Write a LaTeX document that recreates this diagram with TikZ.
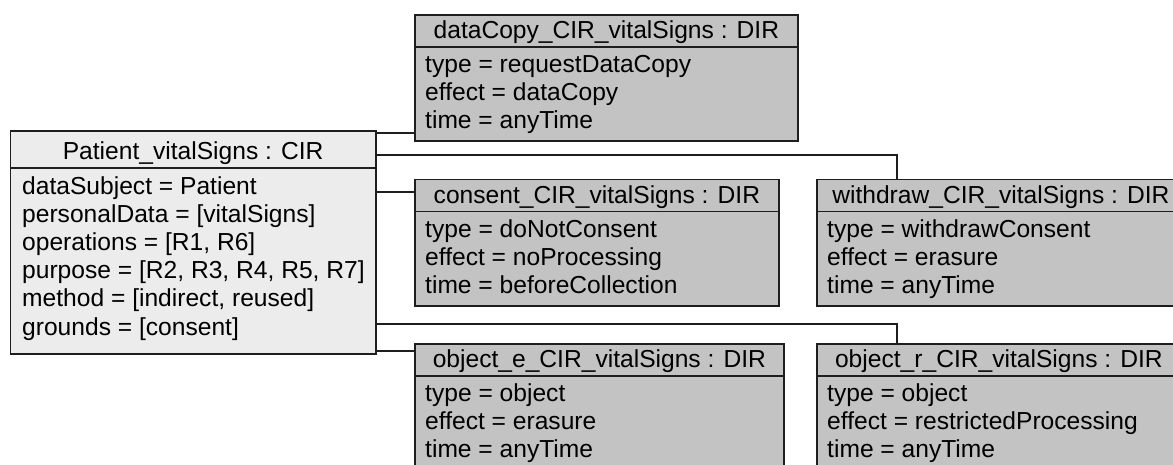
\documentclass[tikz,border=0pt]{standalone}
\usepackage{fontspec}
\setmainfont{Liberation Sans}
\definecolor{cirfill}{HTML}{ECECEC}
\definecolor{dirfill}{HTML}{C3C3C3}
\definecolor{edge}{HTML}{1E1E1E}
\begin{document}
\begin{tikzpicture}[x=1pt,y=-1pt,
  border/.style={draw=edge,line width=1.8pt},
  cirbox/.style={border,fill=cirfill,inner sep=0pt,anchor=north west},
  dirbox/.style={border,fill=dirfill,inner sep=0pt,anchor=north west},
  hdr/.style={inner sep=0pt,anchor=base,font=\fontsize{24.6}{28.1}\selectfont},
  attr/.style={inner sep=0pt,anchor=base west,font=\fontsize{24.6}{28.1}\selectfont},
  link/.style={draw=edge,line width=1.8pt}]
\useasboundingbox (0,0) rectangle (1173,464);
\clip (0,0) rectangle (1173,464);

% ---- CIR object ----
\node[cirbox,minimum width=365.5pt,minimum height=223pt] (pat) at (9.5,130) {};
\draw[border] ([yshift=-38pt]pat.north west) -- ([yshift=-38pt]pat.north east);
\node[hdr] (pat-h) at ([yshift=-29pt]pat.north) {Patient\_vitalSigns : CIR};
\foreach \t [count=\i] in {{dataSubject = Patient},{personalData = [vitalSigns]},
    {operations = [R1, R6]},{purpose = [R2, R3, R4, R5, R7]},
    {method = [indirect, reused]},{grounds = [consent]}}
  \node[attr] (pat-a\i) at ([xshift=12.5pt,yshift={-64pt-(\i-1)*28.2pt}]pat.north west) {\t};

% ---- DIR objects ----
% #1 name, #2 x, #3 y, #4 width, #5 height, #6 header, #7 attribute lines
\newcommand\dirobject[7]{%
  \node[dirbox,minimum width=#4pt,minimum height=#5pt] (#1) at (#2,#3) {};
  \draw[border] ([yshift=-33pt]#1.north west) -- ([yshift=-33pt]#1.north east);
  \node[hdr] (#1-h) at ([yshift=-24.5pt]#1.north) {#6};
  \foreach \t [count=\i] in {#7}
    \node[attr] (#1-a\i) at ([xshift=11pt,yshift={-58.5pt-(\i-1)*28pt}]#1.north west) {\t};
}
\dirobject{dc}{414}{14}{383}{126}{dataCopy\_CIR\_vitalSigns : DIR}
  {{type = requestDataCopy},{effect = dataCopy},{time = anyTime}}
\dirobject{cs}{414}{178.5}{364}{126.5}{consent\_CIR\_vitalSigns : DIR}
  {{type = doNotConsent},{effect = noProcessing},{time = beforeCollection}}
\dirobject{wd}{816}{178.5}{368}{126.5}{withdraw\_CIR\_vitalSigns : DIR}
  {{type = withdrawConsent},{effect = erasure},{time = anyTime}}
\dirobject{oe}{414}{343}{369}{128}{object\_e\_CIR\_vitalSigns : DIR}
  {{type = object},{effect = erasure},{time = anyTime}}
\dirobject{or}{816}{343}{364}{128}{object\_r\_CIR\_vitalSigns : DIR}
  {{type = object},{effect = restrictedProcessing},{time = anyTime}}

% ---- links: ports on the right side of the CIR object ----
\coordinate (p-dc) at ([yshift=-3pt]pat.north east);
\coordinate (p-cs) at ([yshift=-62pt]pat.north east);
\coordinate (p-oe) at ([yshift=4pt]pat.south east);
\coordinate (bend-wd) at (897,155);
\coordinate (bend-or) at (897,324);
\draw[link] (p-dc) -- (dc.west |- p-dc);
\draw[link] (pat.east |- bend-wd) -- (bend-wd) -- (bend-wd |- wd.north);
\draw[link] (p-cs) -- (cs.west |- p-cs);
\draw[link] (pat.east |- bend-or) -- (bend-or) -- (bend-or |- or.north);
\draw[link] (p-oe) -- (oe.west |- p-oe);
\end{tikzpicture}
\end{document}
